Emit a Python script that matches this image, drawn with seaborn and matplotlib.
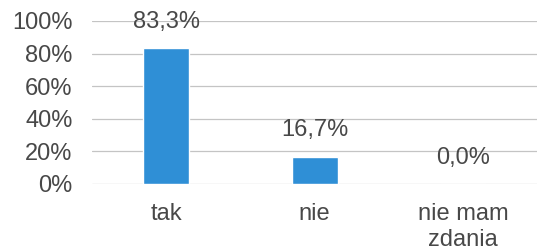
import matplotlib
matplotlib.use("Agg")
import matplotlib.pyplot as plt
import seaborn as sns

categories = ["tak", "nie", "nie mam\nzdania"]
values = [83.3, 16.7, 0.0]
labels = ["83,3%", "16,7%", "0,0%"]
yticks = [0, 20, 40, 60, 80, 100]

sns.set_style("white")
plt.rcParams["font.family"] = ["Liberation Sans", "DejaVu Sans"]

fig = plt.figure(figsize=(5.41, 2.52), dpi=100)
ax = fig.add_axes([0.170, 0.270, 0.823, 0.647])

sns.barplot(x=categories, y=values, color="#2f8fd6", saturation=1,
            width=0.31, ax=ax, zorder=3)

ax.set_ylim(0, 100)
ax.set_yticks(yticks)
ax.set_yticklabels([f"{t}%" for t in yticks])
ax.yaxis.grid(True, color="#c4c4c4", linewidth=0.9, zorder=0)
ax.set_axisbelow(True)
for s in ax.spines.values():
    s.set_visible(False)
ax.tick_params(axis="y", length=0, pad=14, labelsize=17, labelcolor="#484848")
ax.tick_params(axis="x", length=0, pad=14, labelsize=17, labelcolor="#484848")
ax.set_xlim(-0.5, 2.5)

for i, (v, lab) in enumerate(zip(values, labels)):
    ax.annotate(lab, (i, v), xytext=(0, 11), textcoords="offset points",
                ha="center", va="bottom", fontsize=17, color="#484848",
                annotation_clip=False)

fig.savefig("out.png", dpi=100)
